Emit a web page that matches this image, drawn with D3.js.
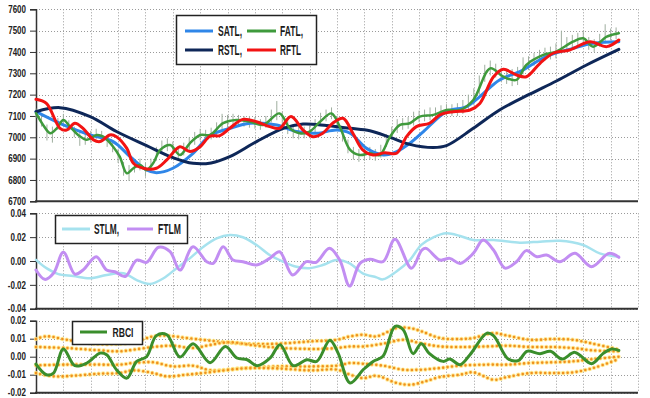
<!DOCTYPE html>
<html><head><meta charset="utf-8">
<script src="https://cdn.jsdelivr.net/npm/d3@7"></script>
<style>
body{margin:0;background:#fff;}
svg{display:block;font-family:"Liberation Sans",Arial,sans-serif;}
</style></head>
<body>
<svg id="c" width="650" height="398"></svg>
<script>
// ---------- DATA ----------
const topTicks = [6700,6800,6900,7000,7100,7200,7300,7400,7500,7600];
const midTicks = [-0.04,-0.02,0.00,0.02,0.04];
const botTicks = [-0.02,-0.01,0.00,0.01,0.02];
const gridIdx = d3.range(0,111,5);

const priceHigh = [7135,7100,7060,7050,7090,7110,7080,7050,7030,7015,7030,7040,7030,7005,6985,6945,6885,6870,6890,6900,6880,6900,6955,6985,6995,6980,6950,6975,7000,7025,7040,7035,7045,7070,7110,7105,7110,7105,7100,7100,7095,7085,7100,7130,7170,7120,7075,7055,7050,7050,7055,7085,7115,7130,7140,7100,7045,6990,6955,6945,6950,6955,6945,6965,7015,7050,7085,7090,7095,7120,7125,7130,7140,7140,7150,7155,7155,7160,7175,7200,7230,7290,7340,7360,7345,7325,7315,7320,7330,7375,7380,7395,7410,7420,7425,7440,7500,7470,7480,7490,7500,7470,7460,7485,7530,7510,7515];
const priceLow  = [7090,7050,6985,6975,7035,7055,7030,7000,6960,6965,6975,6990,6980,6955,6930,6880,6820,6795,6835,6845,6815,6840,6890,6925,6935,6915,6890,6915,6940,6965,6985,6985,6990,7010,7035,7045,7050,7055,7050,7045,7040,7035,7045,7070,7080,7060,7015,6995,6990,6995,7000,7025,7055,7075,7085,7040,6980,6925,6895,6885,6890,6895,6890,6905,6955,6990,7020,7035,7040,7055,7070,7075,7080,7085,7095,7100,7100,7100,7110,7130,7150,7200,7260,7290,7280,7260,7250,7240,7245,7295,7315,7335,7350,7360,7365,7370,7390,7405,7420,7430,7435,7410,7400,7425,7440,7455,7460];

const satl = [[0,7120],[5,7058],[9.9,7011],[14.1,6980],[17.2,6909],[20.2,6847],[22,6834],[25,6855],[28.7,6925],[31.8,7008],[35.4,7042],[39.1,7066],[44,7058],[47.6,7027],[51.3,7019],[54.9,7034],[57.4,7019],[60.4,6948],[63.5,6917],[65.9,6933],[68.3,6972],[70.8,7027],[75,7120],[78.7,7144],[81.1,7191],[84.7,7269],[88.4,7308],[93.2,7378],[98.1,7417],[101.8,7441],[106.5,7448]];
const rstl = [[0,7120],[4.4,7139],[9.9,7097],[14.7,7027],[20.2,6961],[25,6905],[28.7,6878],[32,6880],[35.4,6909],[40.3,6980],[45.2,7042],[48.8,7062],[53.1,7055],[57.4,7042],[61,7031],[64.7,7000],[68.3,6967],[72.6,6952],[75,6961],[79.9,7042],[84.7,7128],[90.2,7202],[95.1,7264],[100.6,7339],[106.5,7412]];
const fatl = [[0,7113],[1.3,7058],[2.6,7019],[3.8,7042],[5,7081],[6.2,7050],[7.7,7011],[9.3,6988],[11.1,7011],[12.3,7003],[14.1,6956],[15.3,6909],[16.6,6831],[17.8,6855],[19,6870],[20.2,6847],[21.4,6878],[22.7,6941],[24.5,6964],[26.3,6917],[28.1,6972],[30,7011],[31.8,7011],[34.2,7066],[36.6,7081],[39.1,7073],[41.5,7058],[44.5,7112],[46.4,7042],[48.2,7019],[50,7027],[51.9,7073],[54,7112],[55.5,7050],[57.4,6941],[59.2,6917],[61,6925],[62.8,6917],[64.7,7003],[66.5,7058],[68.3,7066],[70.1,7097],[72.6,7105],[75,7128],[77.5,7128],[79.9,7175],[83,7323],[85.4,7284],[87.8,7269],[89.6,7339],[92.7,7386],[95.1,7402],[98.1,7448],[100,7464],[101.8,7425],[104.3,7472],[106.5,7488]];
const rftl = [[0,7178],[1.9,7159],[4.4,7042],[5.6,7034],[7.1,7066],[8.6,7042],[10.5,6988],[11.7,6980],[13.5,7011],[14.7,7003],[16.6,6948],[17.8,6878],[19.6,6855],[22,6855],[23.9,6894],[26.3,6956],[28.1,6933],[30,6956],[31.8,7005],[33.6,7008],[35.4,7042],[37.8,7084],[40.3,7073],[42.7,7050],[44.5,7042],[46.6,7097],[48.8,7034],[50.6,7003],[52.4,7019],[54.2,7066],[56.1,7089],[57.9,7019],[59.7,6941],[61.6,6917],[63.7,6928],[65.9,6925],[67.7,7003],[69.5,7050],[71.9,7066],[73.8,7105],[76.2,7120],[79.3,7128],[81.1,7159],[83.6,7284],[85.4,7319],[87.8,7292],[89.6,7284],[92.1,7347],[94.5,7394],[97.5,7409],[101.2,7448],[104.3,7425],[106.5,7456]];

const stlm = [[0,0.001],[1.9,-0.006],[4.1,-0.011],[6.8,-0.0126],[9.9,-0.0145],[12.9,-0.0117],[16,-0.0103],[18.4,-0.016],[20.8,-0.0193],[23.3,-0.0145],[25.7,-0.006],[28.1,0.0022],[30.6,0.012],[33,0.019],[35.4,0.0218],[37.8,0.0199],[40.3,0.0134],[42.7,0.005],[45.2,-0.0006],[47.6,-0.0048],[50,-0.006],[52.4,-0.0034],[54.9,0.0008],[57.3,-0.002],[59.7,-0.0103],[62.2,-0.0137],[63.4,-0.0154],[65.8,-0.009],[68.3,0.0008],[70.4,0.0135],[72.6,0.0199],[75,0.0232],[77.5,0.021],[79.9,0.0176],[83.6,0.0176],[88.4,0.0154],[92.1,0.0162],[95.7,0.017],[100,0.0134],[103,0.0064],[106.5,0.0036]];
const ftlm = [[0,-0.0076],[1.6,-0.0154],[3.2,-0.0103],[5,0.0073],[7.1,-0.011],[8.6,-0.0076],[11,0.0036],[12.9,-0.0076],[14.4,-0.009],[16.3,-0.013],[18.4,0.0008],[20.2,-0.0011],[22.4,0.0115],[24.5,0.0078],[26.3,-0.0076],[28.7,0.012],[31.2,-0.0006],[32.4,-0.002],[34.2,0.012],[36,0.0008],[37.8,-0.0006],[40.3,-0.0034],[42.7,0.0022],[44.5,0.0078],[46.9,-0.0117],[49.4,-0.0006],[51.2,-0.0011],[53.6,0.0106],[55.5,0.0008],[57.3,-0.021],[59.2,-0.002],[61,0.0014],[63.4,-0.0006],[65.6,0.0182],[68.6,-0.006],[70.5,0.0092],[71.3,0.0106],[73.8,0.0008],[75.6,0.0022],[77.5,-0.002],[79.9,0.0064],[81.7,0.0176],[83.6,0.0092],[85.7,-0.006],[87.8,-0.0006],[89.6,0.0087],[91.5,0.0036],[93.3,0.005],[95.7,-0.0006],[98.5,0.0064],[101.5,-0.0048],[104.7,0.0064],[106.5,0.0031]];

const rbci = [[0,-0.0041],[1.9,-0.01],[3.2,-0.0091],[5,0.0043],[7.1,-0.005],[9.3,-0.0035],[11.7,0.002],[12.9,0.0011],[14.7,-0.0072],[16.6,-0.0119],[18.4,-0.0026],[20.2,0],[22,0.0117],[23.9,0.0122],[26.3,-0.0002],[28.7,0.0072],[31.8,-0.0033],[34.6,0.0057],[36.7,-0.0007],[38.6,-0.0017],[40.4,-0.005],[42.8,-0.0007],[44.6,0.0067],[47,-0.005],[49.5,-0.0017],[51.3,-0.0026],[53.7,0.0091],[55.2,0.002],[57.4,-0.0146],[59.8,-0.0072],[61.6,-0.0026],[63.4,0.0002],[65.6,0.0169],[67.1,0.015],[68.9,0.0017],[70.4,0.0072],[71.9,0.0017],[74.4,-0.0026],[75.6,-0.0013],[77.5,-0.0044],[79.3,0.0011],[82.4,0.0131],[83.6,0.0117],[86.3,-0.0013],[88.2,-0.002],[89.7,0.003],[92.1,0.0017],[94,0.003],[96.1,-0.0013],[98.5,0.0024],[101.5,-0.0039],[103.6,0.0017],[105.2,0.0043],[106.5,0.0035]];
const bandUpOuter = [[0,0.0098],[1.9,0.0113],[5.6,0.0094],[10.5,0.0072],[15.3,0.0072],[17.8,0.008],[21.4,0.0113],[23.9,0.0117],[27.5,0.0104],[31.2,0.0091],[34,0.0082],[38,0.0072],[44,0.0072],[50.1,0.0085],[55,0.0094],[57.4,0.0113],[59.8,0.0122],[62.2,0.0113],[65.9,0.0159],[68.3,0.0159],[70.4,0.0141],[73.8,0.0104],[77.5,0.0098],[79.9,0.0104],[83.6,0.0131],[86.1,0.0117],[90.3,0.0094],[94.5,0.0098],[98.1,0.0094],[101.8,0.0072],[106.5,0.0039]];
const bandUpInner = [[0,0.0054],[5.6,0.0048],[11.7,0.0035],[15.3,0.003],[17.8,0.0039],[21.4,0.0054],[25,0.0061],[28.7,0.0048],[31.8,0.0065],[35.4,0.008],[40.3,0.0061],[45.2,0.0048],[51.3,0.0043],[54.9,0.0048],[57.4,0.0057],[59.8,0.0057],[63.4,0.0072],[67.1,0.0094],[70.4,0.0074],[73.8,0.0057],[77.5,0.0054],[82.4,0.0057],[86.1,0.0061],[90.3,0.0054],[94.5,0.0054],[98.1,0.0048],[101.8,0.0035],[106.5,0.003]];
const bandLowInner = [[0,-0.0048],[5.6,-0.0044],[11.7,-0.0044],[15.3,-0.0044],[17.8,-0.0035],[21.4,-0.0031],[25,-0.0054],[28.7,-0.005],[31.8,-0.0075],[38,-0.0063],[44,-0.0054],[50.1,-0.0054],[55,-0.005],[57.4,-0.0035],[59.8,-0.0039],[63.4,-0.005],[67.1,-0.0072],[70.4,-0.0072],[73.8,-0.0063],[77.5,-0.005],[82.4,-0.0044],[86.1,-0.0044],[90.3,-0.0035],[94.5,-0.0031],[98.1,-0.0026],[101.8,-0.0013],[106.5,0]];
const bandLowOuter = [[0,-0.0091],[3.2,-0.0109],[6.8,-0.0106],[11.7,-0.0094],[15.3,-0.0091],[17.8,-0.0076],[21.4,-0.0091],[23.9,-0.0109],[27.5,-0.01],[31.2,-0.0088],[38,-0.0065],[44,-0.0065],[50.1,-0.0076],[55,-0.0072],[57.4,-0.01],[59.8,-0.0119],[62.2,-0.0106],[65.9,-0.0146],[68.3,-0.0156],[70.7,-0.0141],[73.8,-0.0113],[77.5,-0.01],[79.9,-0.0087],[83.6,-0.0128],[86.1,-0.0113],[90.3,-0.0091],[94.5,-0.0091],[98.1,-0.0087],[101.8,-0.0063],[106.5,-0.0013]];

// ---------- DRAW ----------
const svg = d3.select("#c");
const x = d3.scaleLinear().domain([0,110]).range([36,638]);
const panels = [
  {y: d3.scaleLinear().domain([6700,7600]).range([201.3,9.3]), ticks: topTicks, fmt: d3.format("d")},
  {y: d3.scaleLinear().domain([-0.04,0.04]).range([308.7,213.3]), ticks: midTicks, fmt: d3.format(".2f")},
  {y: d3.scaleLinear().domain([-0.02,0.02]).range([392.7,320.7]), ticks: botTicks, fmt: d3.format(".2f")}
];
const minus = s => s.replace("−","-");
const SX = 0.8;

panels.forEach(p=>{
  const [y0,y1] = p.y.range();
  const g = svg.append("g");
  g.selectAll(".hg").data(p.ticks).join("line")
    .attr("x1",36).attr("x2",638)
    .attr("y1",d=>Math.round(p.y(d))+0.5).attr("y2",d=>Math.round(p.y(d))+0.5)
    .attr("stroke","#9a9a9a").attr("stroke-width",1).attr("stroke-dasharray","1,2");
  g.selectAll(".vg").data(gridIdx.slice(1)).join("line")
    .attr("x1",d=>Math.round(x(d))+0.5).attr("x2",d=>Math.round(x(d))+0.5)
    .attr("y1",y1).attr("y2",y0)
    .attr("stroke","#9a9a9a").attr("stroke-width",1).attr("stroke-dasharray","1,2");
  const ax = d3.axisLeft(p.y).tickValues(p.ticks).tickSize(6).tickPadding(4)
    .tickFormat(d=>minus(p.fmt(d)));
  const ag = g.append("g").attr("transform","translate(36,0)").call(ax);
  ag.select(".domain").attr("stroke","#333").attr("stroke-width",1.5);
  ag.selectAll(".tick line").attr("stroke","#333");
  ag.selectAll(".tick text")
    .attr("font-size",10).attr("font-weight","bold").attr("fill","#222")
    .attr("font-family","'Liberation Sans',Arial,sans-serif")
    .attr("x",-10/SX).attr("transform",`scale(${SX},1)`);
  g.append("line").attr("x1",35).attr("x2",638).attr("y1",y0).attr("y2",y0)
    .attr("stroke","#333").attr("stroke-width",2);
  p.g = g;
});

const curve = d3.curveCatmullRom.alpha(0.5);
function drawLine(g, yS, data, color, w, extra){
  const line = d3.line().x(d=>x(d[0])).y(d=>yS(d[1])).curve(curve);
  const path = g.append("path").datum(data).attr("d",line)
    .attr("fill","none").attr("stroke",color).attr("stroke-width",w)
    .attr("stroke-linejoin","round").attr("stroke-linecap","round");
  if(extra) extra(path);
  return path;
}

const P0 = panels[0];
P0.g.append("g").selectAll("line").data(priceHigh).join("line")
  .attr("x1",(d,i)=>x(i)).attr("x2",(d,i)=>x(i))
  .attr("y1",d=>P0.y(d)).attr("y2",(d,i)=>P0.y(priceLow[i]))
  .attr("stroke","#9fae9f").attr("stroke-width",1);
drawLine(P0.g,P0.y,satl,"#2f86e8",3);
drawLine(P0.g,P0.y,rstl,"#0e2758",3);
drawLine(P0.g,P0.y,fatl,"#3f9a3c",2.5);
drawLine(P0.g,P0.y,rftl,"#f21313",3);

const P1 = panels[1];
drawLine(P1.g,P1.y,stlm,"#a6e2ee",2.5);
drawLine(P1.g,P1.y,ftlm,"#c28ef2",3);

const P2 = panels[2];
[bandUpOuter,bandUpInner,bandLowInner,bandLowOuter].forEach(b=>{
  drawLine(P2.g,P2.y,b,"#ffe680",4.5,p=>p.attr("stroke-dasharray","0,4.5").attr("opacity",0.8));
  drawLine(P2.g,P2.y,b,"#f0901e",2.6,p=>p.attr("stroke-dasharray","0,4.5"));
});
drawLine(P2.g,P2.y,rbci,"#3a8e2c",3);

function legend(x0,y0,w,h,rows,fs){
  const g = svg.append("g");
  g.append("rect").attr("x",x0).attr("y",y0).attr("width",w).attr("height",h)
    .attr("fill","#fff").attr("stroke","#222").attr("stroke-width",1.5);
  rows.forEach(r=>{
    g.append("line").attr("x1",r.x).attr("x2",r.x2).attr("y1",r.y).attr("y2",r.y)
      .attr("stroke",r.c).attr("stroke-width",3);
    g.append("text").attr("x",r.tx).attr("y",r.y+5).text(r.t)
      .attr("font-size",fs).attr("font-weight","bold").attr("fill","#1a1a1a")
      .attr("textLength",r.tw).attr("lengthAdjust","spacingAndGlyphs");
  });
}
legend(176.5,15.5,140,49,[
  {x:185,x2:213,y:31,c:"#2f86e8",t:"SATL,",tx:218,tw:24},
  {x:247,x2:276,y:31,c:"#3f9a3c",t:"FATL,",tx:280,tw:23},
  {x:185,x2:213,y:50,c:"#0e2758",t:"RSTL,",tx:218,tw:24},
  {x:247,x2:276,y:50,c:"#f21313",t:"RFTL",tx:280,tw:21}],14);
legend(55.5,215.5,132,28,[
  {x:62,x2:90,y:229,c:"#a6e2ee",t:"STLM,",tx:94,tw:25},
  {x:127,x2:153,y:229,c:"#c28ef2",t:"FTLM",tx:158,tw:23}],14);
legend(72.5,321.5,70,23,[
  {x:80,x2:107,y:332,c:"#3a8e2c",t:"RBCI",tx:112.5,tw:21}],12.5);
</script>
</body></html>
